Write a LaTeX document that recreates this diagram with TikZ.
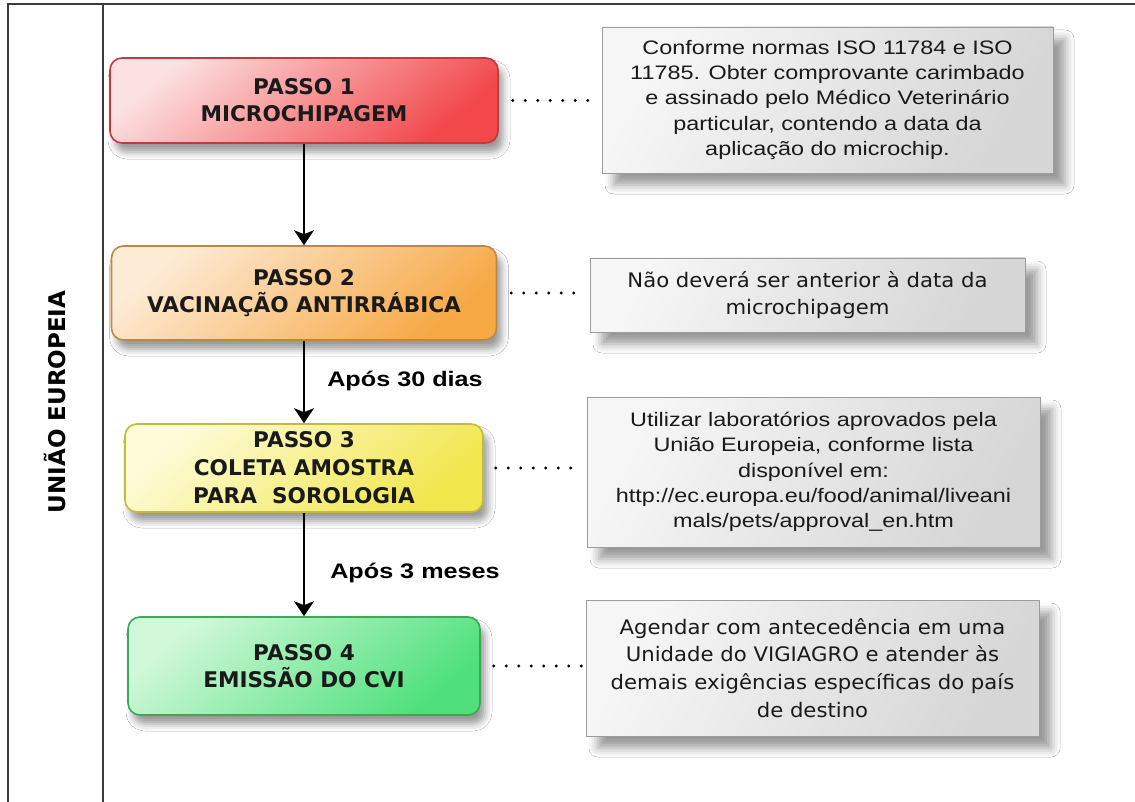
\documentclass[tikz,border=0pt]{standalone}
\usepackage{fontspec}
\setmainfont{DejaVu Sans}
\newfontfamily\stepfont{DejaVu Sans}
\newfontfamily\arialfont{Liberation Sans}[FakeStretch=1.2]
\newfontfamily\lblfont{Liberation Sans}[FakeStretch=1.2]
\newfontfamily\tahfont{DejaVu Sans}[FakeStretch=1.06]
\usetikzlibrary{arrows.meta,shadows.blur}
\definecolor{framec}{HTML}{3A3A3A}
\definecolor{redb}{HTML}{C23A3C}
\definecolor{redl}{HTML}{FCE1E2}
\definecolor{redd}{HTML}{F2474B}
\definecolor{orb}{HTML}{B98A45}
\definecolor{orl}{HTML}{FDEBD6}
\definecolor{ord}{HTML}{F6A845}
\definecolor{yeb}{HTML}{C2BC3A}
\definecolor{yel}{HTML}{FDFBD8}
\definecolor{yed}{HTML}{F1E64C}
\definecolor{grb}{HTML}{3DA855}
\definecolor{grl}{HTML}{D2F8DA}
\definecolor{grd}{HTML}{4FE07C}
\definecolor{notel}{HTML}{F6F6F6}
\definecolor{noted}{HTML}{D6D6D6}
\definecolor{noteb}{HTML}{9C9C9C}
\definecolor{txt}{HTML}{1A1A1A}
\begin{document}
\begin{tikzpicture}[x=1pt,y=-1pt,
  frameline/.style={draw=framec,line width=1.8pt},
  stepbox/.style={rounded corners=12pt,line width=1.6pt,align=center,text=txt,
    font=\stepfont\bfseries\fontsize{21.6}{27}\selectfont,shading angle=40,
    blur shadow={shadow xshift=5pt,shadow yshift=-9pt,shadow blur radius=7pt}},
  notebox/.style={draw=noteb,line width=0.9pt,align=center,text=txt,
    top color=notel,bottom color=noted,shading angle=60,
    blur shadow={shadow xshift=12pt,shadow yshift=-12pt,shadow blur radius=9pt}},
  arialtxt/.style={font=\arialfont\fontsize{19.5}{25.4}\selectfont},
  tahtxt/.style={font=\tahfont\fontsize{20}{27.8}\selectfont},
  lbl/.style={font=\lblfont\bfseries\fontsize{21}{24}\selectfont,text=black},
  arr/.style={draw=black,line width=1.5pt,-{Stealth[width=20pt,length=15pt,inset=4pt]}},
  dotline/.style={draw=black,line width=3.2pt,line cap=round,dash pattern=on 0pt off 12.5pt}]
\useasboundingbox (0,0) rectangle (1135,802);
\fill[white] (0,0) rectangle (1135,802);
% frame
\draw[frameline] (8,802) -- (8,4) -- (1135,4);
\draw[frameline] (103,4) -- (103,802);
\node[rotate=90,font=\stepfont\bfseries\fontsize{23}{26}\selectfont,text=black] (ue) at (55,402) {UNIÃO EUROPEIA};
% steps
\node[stepbox,draw=redb,top color=redl,bottom color=redd,shading angle=40,minimum width=388pt,minimum height=85pt] (s1) at (304,100.5) {PASSO 1\\MICROCHIPAGEM};
\node[stepbox,draw=orb,top color=orl,bottom color=ord,shading angle=40,minimum width=385pt,minimum height=94pt] (s2) at (304,293) {PASSO 2\\VACINAÇÃO ANTIRRÁBICA};
\node[stepbox,draw=yeb,top color=yel,bottom color=yed,shading angle=40,minimum width=358pt,minimum height=88pt,font=\stepfont\bfseries\fontsize{21.6}{28}\selectfont] (s3) at (304,468) {PASSO 3\\COLETA AMOSTRA\\PARA\ \ SOROLOGIA};
\node[stepbox,draw=grb,top color=grl,bottom color=grd,shading angle=40,minimum width=352pt,minimum height=98pt] (s4) at (304,666) {PASSO 4\\EMISSÃO DO CVI};
% notes
\node[notebox,arialtxt,minimum width=451pt,minimum height=146pt] (n1) at (827.5,100) {Conforme normas ISO 11784 e ISO\\11785. Obter comprovante carimbado\\e assinado pelo Médico Veterinário\\particular, contendo a data da\\aplicação do microchip.};
\node[notebox,tahtxt,minimum width=435pt,minimum height=74pt] (n2) at (807.5,295) {Não deverá ser anterior à data da\\microchipagem};
\node[notebox,arialtxt,minimum width=453pt,minimum height=150pt] (n3) at (813.5,472) {Utilizar laboratórios aprovados pela\\União Europeia, conforme lista\\disponível em:\\http://ec.europa.eu/food/animal/liveani\\mals/pets/approval\_en.htm};
\node[notebox,tahtxt,minimum width=453pt,minimum height=136pt] (n4) at (812.5,668) {Agendar com antecedência em uma\\Unidade do VIGIAGRO e atender às\\demais exigências específicas do país\\de destino};
% arrows
\draw[arr] (s1.south) -- (s2.north);
\draw[arr] (s2.south) -- (s3.north);
\draw[arr] (s3.south) -- (s4.north);
\node[lbl] (l1) at (405,381) {Após 30 dias};
\node[lbl] (l2) at (415,573) {Após 3 meses};
% dotted connectors
\draw[dotline] ([xshift=14pt]s1.east) -- ([xshift=-8pt]s1.east -| n1.west);
\draw[dotline] ([xshift=14pt]s2.east) -- ([xshift=-6pt]s2.east -| n2.west);
\draw[dotline] ([xshift=12pt]s3.east) -- ([xshift=-8pt]s3.east -| n3.west);
\draw[dotline] ([xshift=13pt]s4.east) -- ([xshift=-3pt]s4.east -| n4.west);
\end{tikzpicture}
\end{document}
